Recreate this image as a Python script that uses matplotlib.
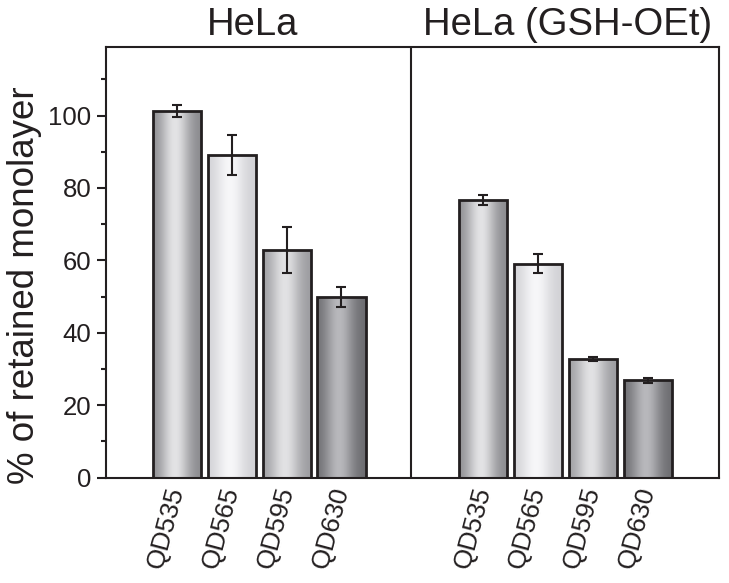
import numpy as np
import matplotlib
matplotlib.use("Agg")
import matplotlib.pyplot as plt
from matplotlib.ticker import MultipleLocator
from matplotlib.colors import to_rgb

plt.rcParams['font.family'] = ['Liberation Sans', 'DejaVu Sans']

# DATA
groups = ["HeLa", "HeLa (GSH-OEt)"]
labels = ["QD535", "QD565", "QD595", "QD630"]
hela = [101.2, 89.0, 62.8, 49.9]
hela_err = [1.7, 5.5, 6.3, 2.8]
gsh = [76.6, 59.1, 32.7, 26.9]
gsh_err = [1.4, 2.7, 0.6, 0.7]

# bar shading per QD: (edge colour, highlight colour)
shades = [("#88888c", "#e3e3e5"),
          ("#d0d0d4", "#f7f7f9"),
          ("#9a9a9e", "#e2e2e4"),
          ("#6a6a6e", "#b8b8bc")]

INK = "#231f20"


def gradient_row(edge, light, n=200):
    t = np.linspace(0, 1, n)
    f = np.exp(-((t - 0.45) / 0.3) ** 2)
    e = np.array(to_rgb(edge))
    li = np.array(to_rgb(light))
    return (e[None, :] + (li - e)[None, :] * f[:, None])[None, :, :]


fig = plt.figure(figsize=(7.29, 5.83), dpi=100)
ax = fig.add_axes([0.1454, 0.1806, 0.8409, 0.7393])

width = 0.88
left_pos = np.arange(4) + 1.0
right_pos = np.arange(4) + 6.59

for pos, vals, errs in [(left_pos, hela, hela_err), (right_pos, gsh, gsh_err)]:
    bars = ax.bar(pos, vals, width=width, facecolor="none", edgecolor=INK,
                  linewidth=2.0, zorder=3)
    for b, (edge, light) in zip(bars, shades):
        x0 = b.get_x()
        im = ax.imshow(gradient_row(edge, light),
                       extent=(x0, x0 + b.get_width(), 0, b.get_height()),
                       aspect="auto", zorder=2, interpolation="bilinear")
        im.set_clip_path(b)
    ax.errorbar(pos, vals, yerr=errs, fmt="none", ecolor=INK, elinewidth=1.5,
                capsize=3.3, capthick=1.5, zorder=4)

# divider between the two panels
ax.axvline(5.27, color=INK, linewidth=1.5, zorder=5)

ax.set_xlim(-0.296, 10.89)
ax.set_ylim(0, 119)

ax.yaxis.set_major_locator(MultipleLocator(20))
ax.yaxis.set_minor_locator(MultipleLocator(10))
ax.tick_params(axis="y", which="major", direction="out", length=6.5, width=1.5,
               labelsize=18.5, pad=4, colors=INK)
ax.tick_params(axis="y", which="minor", direction="out", length=3.6, width=1.5,
               colors=INK)

ax.set_xticks(np.concatenate([left_pos, right_pos]))
ax.set_xticklabels(labels + labels, rotation=75, ha="right", va="center",
                   rotation_mode="anchor", fontsize=19, color=INK)
ax.tick_params(axis="x", length=0, pad=7)

for s in ax.spines.values():
    s.set_linewidth(1.5)
    s.set_color(INK)

# panel titles
tr = ax.get_xaxis_transform()
ax.text(2.37, 1.027, groups[0], transform=tr, ha="center", va="baseline",
        fontsize=27.5, color=INK)
ax.text(8.12, 1.027, groups[1], transform=tr, ha="center", va="baseline",
        fontsize=27.5, color=INK, clip_on=False)

fig.text(0.034, 1 - 285 / 583, "% of retained monolayer", rotation=90,
         ha="center", va="center", fontsize=26.5, color=INK)

fig.savefig("out.png", dpi=100)
